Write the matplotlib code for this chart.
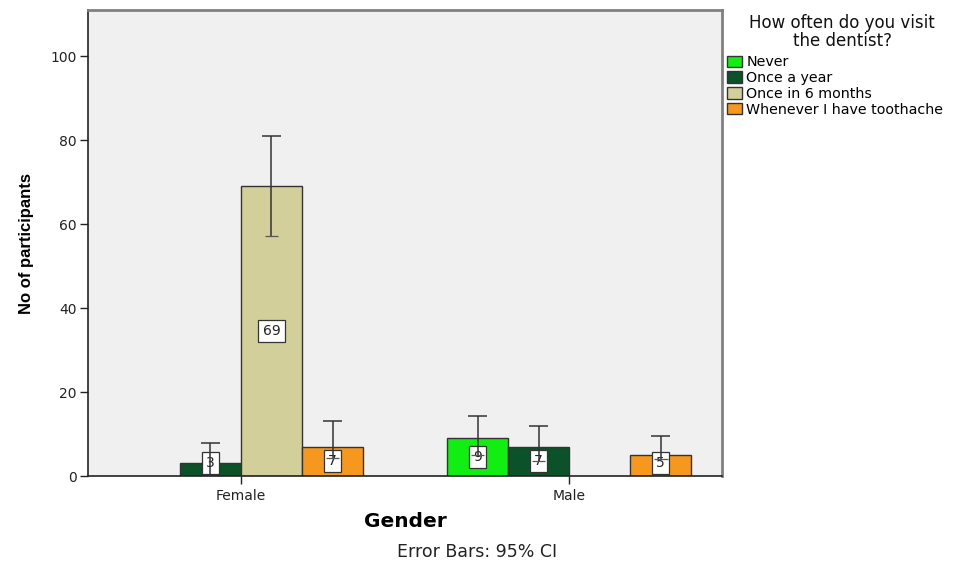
import numpy as np
import matplotlib.pyplot as plt
from matplotlib.patches import Patch

plt.rcParams['font.family'] = ['DejaVu Sans']

# ---------- Data ----------
genders = ['Female', 'Male']
answers = ['Never', 'Once a year', 'Once in 6 months', 'Whenever I have toothache']
counts = {
    'Never':                     [0, 9],
    'Once a year':               [3, 7],
    'Once in 6 months':          [69, 0],
    'Whenever I have toothache': [7, 5],
}
ci_upper = {
    'Never':                     [0, 14.3],
    'Once a year':               [7.9, 11.9],
    'Once in 6 months':          [81.0, 0],
    'Whenever I have toothache': [13.1, 9.5],
}
ci_lower = {
    'Never':                     [0, 5.0],
    'Once a year':               [0.0, 3.5],
    'Once in 6 months':          [57.2, 0],
    'Whenever I have toothache': [4.2, 4.0],
}
colors = {
    'Never':                     '#11ee11',
    'Once a year':               '#0b5228',
    'Once in 6 months':          '#d3cf9b',
    'Whenever I have toothache': '#f7981e',
}

# ---------- Render ----------
fig = plt.figure(figsize=(9.58, 5.65), dpi=100)
fig.patch.set_facecolor('white')
ax = fig.add_axes([0.0919, 0.1575, 0.6618, 0.8248])
ax.set_facecolor('#f0f0f0')

x = np.arange(len(genders))
w = 0.186
offsets = (np.arange(len(answers)) - 1.5) * w
cap_hi = 0.029   # half-width of the upper whisker cap
cap_lo = 0.021   # half-width of the lower cap (sits inside the label box)

for off, ans in zip(offsets, answers):
    vals = np.array(counts[ans], dtype=float)
    for xi, v, lo, hi in zip(x + off, vals, ci_lower[ans], ci_upper[ans]):
        if v <= 0:
            continue
        ax.bar(xi, v, width=w, color=colors[ans], edgecolor='#333333',
               linewidth=1.0, zorder=2)
        ax.text(xi, max(v / 2, 3.1), f'{int(v)}', ha='center', va='center',
                fontsize=10, color='#222222', zorder=4,
                bbox=dict(boxstyle='square,pad=0.3', facecolor='white',
                          edgecolor='#333333', linewidth=0.9))
        # 95% CI whisker drawn over the value box
        ax.vlines(xi, lo, hi, color='#333333', linewidth=1.1, zorder=5)
        ax.hlines(hi, xi - cap_hi, xi + cap_hi, color='#333333',
                  linewidth=1.1, zorder=5)
        ax.hlines(lo, xi - cap_lo, xi + cap_lo, color='#555555',
                  linewidth=0.9, zorder=5)

ax.set_xlim(-0.466, 1.466)
ax.set_ylim(0, 111)
ax.set_yticks(range(0, 101, 20))
ax.set_xticks(x)
ax.set_xticklabels(genders)
ax.tick_params(axis='both', labelsize=10, colors='#222222', length=6,
               width=1.0, direction='out')
ax.tick_params(axis='y', pad=2)

for side in ['left', 'bottom']:
    ax.spines[side].set_color('#222222')
    ax.spines[side].set_linewidth(1.2)
for side in ['top', 'right']:
    ax.spines[side].set_color('#808080')
    ax.spines[side].set_linewidth(2.0)

ax.set_ylabel('No of participants', fontsize=12, fontweight='bold',
              family=['Liberation Sans Narrow', 'Liberation Sans'], labelpad=12)
ax.set_xlabel('Gender', fontsize=14.5, fontweight='bold', labelpad=6)

fig.text(0.498, 0.023, 'Error Bars: 95% CI', ha='center', va='center',
         fontsize=12.5, color='#222222')

# Legend outside the plot on the right, title set as separate centred text
fig.text(0.879, 0.943, 'How often do you visit\nthe dentist?', ha='center',
         va='center', fontsize=12, color='#111111', linespacing=1.0)
handles = [Patch(facecolor=colors[a], edgecolor='#333333', linewidth=1.0, label=a)
           for a in answers]
fig.legend(handles=handles, loc='upper left',
           bbox_to_anchor=(0.759, 0.902), frameon=False, fontsize=10.3,
           handlelength=1.05, handleheight=0.85, handletextpad=0.3,
           labelspacing=0.12, borderaxespad=0, borderpad=0.0)

plt.savefig('out.png', dpi=100, facecolor='white')
plt.close()
